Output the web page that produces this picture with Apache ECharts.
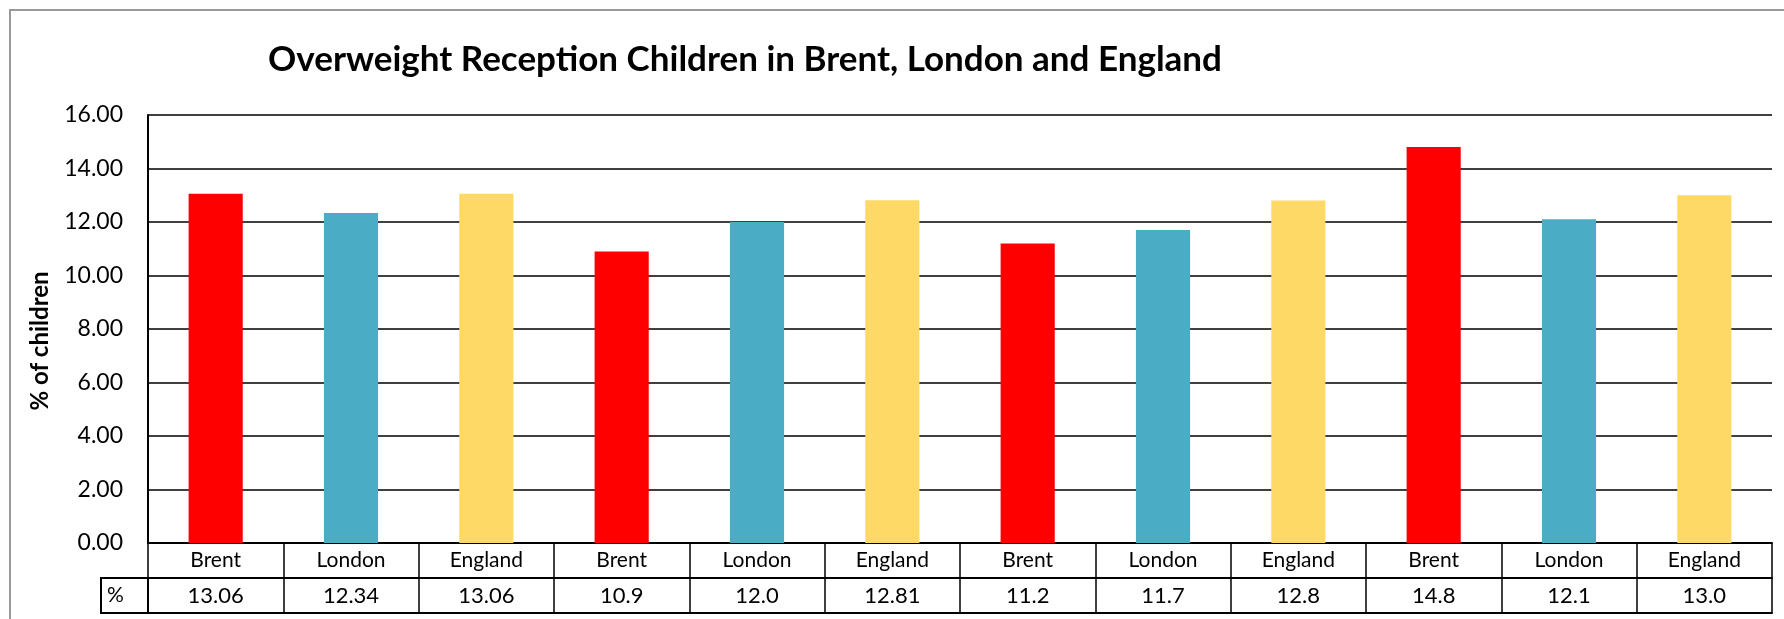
<!DOCTYPE html>
<html>
<head>
<meta charset="utf-8">
<script src="https://cdn.jsdelivr.net/npm/echarts@6/dist/echarts.min.js"></script>
<style>
html,body{margin:0;padding:0;background:#fff;}
#chart{width:1784px;height:619px;}
</style>
</head>
<body>
<div id="chart"></div>
<script>
// ---- data ----
var categories = ['Brent','London','England','Brent','London','England','Brent','London','England','Brent','London','England'];
var values = [13.06, 12.34, 13.06, 10.9, 12.0, 12.81, 11.2, 11.7, 12.8, 14.8, 12.1, 13.0];
var tableLabels = ['13.06','12.34','13.06','10.9','12.0','12.81','11.2','11.7','12.8','14.8','12.1','13.0'];
var yTicks = [0, 2, 4, 6, 8, 10, 12, 14, 16];
var rowLabel = '%';
var titleText = 'Overweight Reception Children in Brent, London and England';
var yName = '% of children';

// ---- styles ----
var palette = { Brent: '#FF0000', London: '#4BACC6', England: '#FFD966' };
var FONT = 'Lato, "Liberation Sans", sans-serif';
var gridL = 148, gridR = 12, gridT = 115, gridB = 76;
var rowH = 35;

var chart = echarts.init(document.getElementById('chart'), null, {renderer: 'canvas'});

var option = {
  backgroundColor: '#fff',
  animation: false,
  title: {
    text: titleText,
    left: 740, top: 37, textAlign: 'center',
    textStyle: { fontFamily: FONT, fontWeight: 'bold', fontSize: 35, color: '#000' }
  },
  grid: { left: gridL, right: gridR, top: gridT, bottom: gridB, containLabel: false },
  xAxis: [
    {
      type: 'category', data: categories, position: 'bottom',
      axisLine: { show: true, lineStyle: { color: '#000', width: 2 } },
      axisTick: { show: true, interval: 0, length: rowH * 2, inside: false, lineStyle: { color: '#000', width: 1.5 } },
      axisLabel: { interval: 0, margin: 7, fontFamily: FONT, fontSize: 21, color: '#000', lineHeight: 21 },
      splitLine: { show: false }
    },
    {
      type: 'category', data: tableLabels, position: 'bottom', offset: rowH,
      axisLine: { show: true, lineStyle: { color: '#000', width: 2 } },
      axisTick: { show: false },
      axisLabel: { interval: 0, margin: 7, fontFamily: FONT, fontSize: 22, color: '#000', lineHeight: 22 },
      splitLine: { show: false }
    },
    {
      type: 'category', data: tableLabels, position: 'bottom', offset: rowH * 2,
      axisLine: { show: true, lineStyle: { color: '#000', width: 2 } },
      axisTick: { show: false },
      axisLabel: { show: false },
      splitLine: { show: false }
    }
  ],
  yAxis: {
    type: 'value', min: yTicks[0], max: yTicks[yTicks.length - 1], interval: yTicks[1] - yTicks[0],
    name: yName, nameLocation: 'middle', nameRotate: 90, nameGap: 96,
    nameTextStyle: { fontFamily: FONT, fontWeight: 'bold', fontSize: 24, color: '#000', padding: [0, 24, 0, 0] },
    axisLine: { show: true, lineStyle: { color: '#000', width: 2 } },
    axisTick: { show: false },
    axisLabel: { margin: 25, fontFamily: FONT, fontSize: 23, color: '#000', formatter: function (v) { return v.toFixed(2); } },
    splitLine: { show: true, lineStyle: { color: '#000', width: 1.5 } }
  },
  series: [{
    type: 'bar', xAxisIndex: 0, data: values, barWidth: '40%',
    itemStyle: { color: function (p) { return palette[categories[p.dataIndex]]; } }
  }],
  graphic: [
    { type: 'rect', shape: { x: 10, y: 10, width: 1800, height: 700 }, style: { fill: 'none', stroke: '#999', lineWidth: 2 }, silent: true },
    { type: 'rect', shape: { x: 101, y: 619 - gridB + rowH, width: gridL - 101, height: rowH },
      style: { fill: 'none', stroke: '#000', lineWidth: 2 }, silent: true },
    { type: 'text', x: 107, y: 619 - gridB + rowH + rowH / 2,
      style: { text: rowLabel, fontFamily: FONT, fontSize: 21, fill: '#000', verticalAlign: 'middle', align: 'left' }, silent: true }
  ]
};
chart.setOption(option);
</script>
</body>
</html>
